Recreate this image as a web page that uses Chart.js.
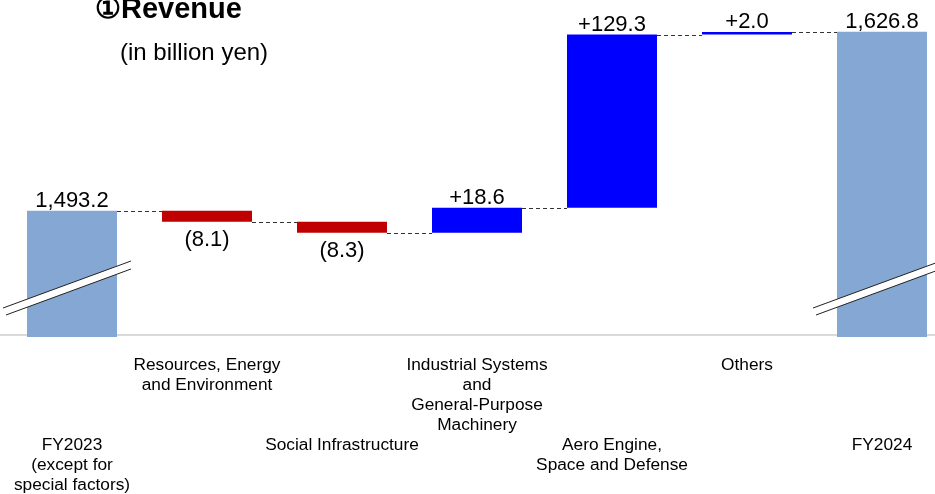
<!DOCTYPE html>
<html>
<head>
<meta charset="utf-8">
<script src="https://cdn.jsdelivr.net/npm/chart.js@4.4.1/dist/chart.umd.min.js"></script>
<style>
  html, body { margin: 0; padding: 0; background: #fff; overflow: hidden; }
  #wrap { position: relative; width: 950px; height: 494px; overflow: hidden; }
  .title { position: absolute; left: 95px; top: -9px; font: bold 29px "Liberation Sans", Arial, sans-serif; color: #000; white-space: nowrap; }
  .unit { position: absolute; left: 120px; top: 38px; font: 24px "Liberation Sans", Arial, sans-serif; color: #000; white-space: nowrap; }
</style>
</head>
<body>
<div id="wrap">
  <canvas id="revChart" width="950" height="513"></canvas>
  <div class="title">①Revenue</div>
  <div class="unit">(in billion yen)</div>
</div>
<script>
// revenue bridge FY2023 -> FY2024, billions of yen
const categories = [
  ['', '', '', '', 'FY2023', '(except for', 'special factors)'],
  ['Resources, Energy', 'and Environment'],
  ['', '', '', '', 'Social Infrastructure'],
  ['Industrial Systems', 'and', 'General-Purpose', 'Machinery'],
  ['', '', '', '', 'Aero Engine,', 'Space and Defense'],
  ['Others'],
  ['', '', '', '', 'FY2024']
];
const startTotal = 1493.2;
const endTotal = 1626.8;
const changes = [-8.1, -8.3, 18.6, 129.3, 2.0];
const valueLabels = ['1,493.2', '(8.1)', '(8.3)', '+18.6', '+129.3', '+2.0', '1,626.8'];
const axisMin = 1399;
const axisMax = 1650.5;

// floating ranges for each bar
const ranges = [[axisMin, startTotal]];
let level = startTotal;
changes.forEach(c => {
  ranges.push([level, level + c]);
  level += c;
});
ranges.push([axisMin, endTotal]);

const colors = ranges.map((r, i) => {
  if (i === 0 || i === ranges.length - 1) return '#84a7d3';
  return changes[i - 1] < 0 ? '#c00000' : '#0000ff';
});

const bridgePlugin = {
  id: 'bridge',
  beforeDatasetsDraw(chart) {
    const { ctx, chartArea } = chart;
    ctx.save();
    ctx.strokeStyle = '#d9d9d9';
    ctx.lineWidth = 2;
    ctx.beginPath();
    ctx.moveTo(0, chartArea.bottom - 2);
    ctx.lineTo(chart.width, chartArea.bottom - 2);
    ctx.stroke();
    ctx.restore();
  },
  afterDatasetsDraw(chart) {
    const { ctx, chartArea } = chart;
    const meta = chart.getDatasetMeta(0);
    const y = chart.scales.y;
    ctx.save();

    // dashed connectors between consecutive bars
    ctx.strokeStyle = '#333';
    ctx.lineWidth = 1;
    ctx.setLineDash([4, 3]);
    for (let i = 0; i < meta.data.length - 1; i++) {
      const a = meta.data[i], b = meta.data[i + 1];
      const lvl = ranges[i][1];
      const py = Math.round(y.getPixelForValue(lvl)) + 0.5;
      ctx.beginPath();
      ctx.moveTo(a.x + a.width / 2, py);
      ctx.lineTo(b.x - b.width / 2, py);
      ctx.stroke();
    }
    ctx.setLineDash([]);

    // axis break marks on the two total bars
    [0, meta.data.length - 1].forEach(i => {
      const cx = meta.data[i].x;
      const B = chartArea.bottom;
      ctx.fillStyle = '#fff';
      ctx.beginPath();
      ctx.moveTo(cx - 69, B - 29);
      ctx.lineTo(cx + 59, B - 76);
      ctx.lineTo(cx + 59, B - 68);
      ctx.lineTo(cx - 66, B - 22);
      ctx.closePath();
      ctx.fill();
      ctx.strokeStyle = '#222';
      ctx.lineWidth = 1;
      ctx.beginPath();
      ctx.moveTo(cx - 69, B - 29);
      ctx.lineTo(cx + 59, B - 76);
      ctx.moveTo(cx - 66, B - 22);
      ctx.lineTo(cx + 59, B - 68);
      ctx.stroke();
    });

    // value labels
    ctx.fillStyle = '#000';
    ctx.font = '22px "Liberation Sans", Arial, sans-serif';
    ctx.textAlign = 'center';
    meta.data.forEach((bar, i) => {
      const r = ranges[i];
      const hi = Math.max(r[0], r[1]);
      const lo = Math.min(r[0], r[1]);
      const negative = i > 0 && i < meta.data.length - 1 && changes[i - 1] < 0;
      if (negative) {
        ctx.textBaseline = 'top';
        ctx.fillText(valueLabels[i], bar.x, y.getPixelForValue(lo) + 7);
      } else {
        ctx.textBaseline = 'bottom';
        ctx.fillText(valueLabels[i], bar.x, y.getPixelForValue(hi) + 1);
      }
    });
    ctx.restore();
  }
};

new Chart(document.getElementById('revChart'), {
  type: 'bar',
  data: {
    labels: categories,
    datasets: [{
      data: ranges,
      backgroundColor: colors,
      borderWidth: 0,
      categoryPercentage: 1,
      barPercentage: 2 / 3
    }]
  },
  options: {
    responsive: false,
    animation: false,
    layout: { padding: { left: 4.5, right: 0.5, top: 0, bottom: 0 } },
    plugins: { legend: { display: false }, tooltip: { enabled: false } },
    scales: {
      y: { display: false, min: axisMin, max: axisMax },
      x: {
        grid: { display: false, drawTicks: false },
        border: { display: false },
        afterFit(scale) {
          scale.paddingLeft = 0;
          scale.paddingRight = 0;
        },
        ticks: {
          padding: 18,
          maxRotation: 0,
          autoSkip: false,
          color: '#000',
          font: { family: '"Liberation Sans", Arial, sans-serif', size: 17.3, lineHeight: 20 / 17.3 }
        }
      }
    }
  },
  plugins: [bridgePlugin]
});
</script>
</body>
</html>
